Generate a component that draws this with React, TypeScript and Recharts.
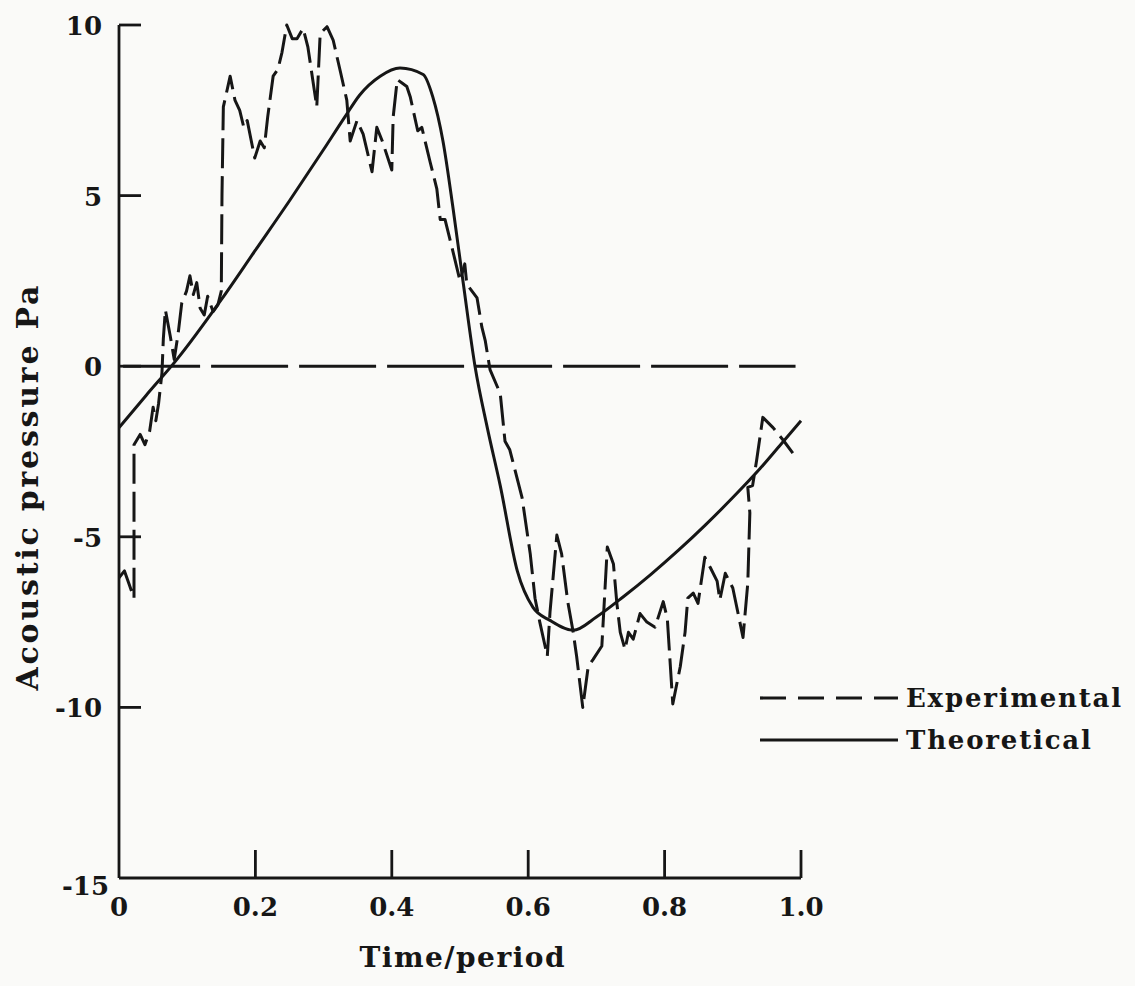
import React from "react";
import { LineChart, Line, XAxis, YAxis, ReferenceLine } from "recharts";

// experimental trace (dashed)
const expTime = [
  0, 0.008, 0.015, 0.022, 0.022, 0.022, 0.031, 0.038, 0.045, 0.05, 0.054, 0.058, 0.063, 0.065, 0.068,
  0.075, 0.081, 0.087, 0.092, 0.099, 0.104, 0.109, 0.114, 0.119, 0.125, 0.13, 0.138, 0.145, 0.15,
  0.151, 0.153, 0.163, 0.17, 0.177, 0.183, 0.188, 0.199, 0.207, 0.213, 0.218, 0.226, 0.233, 0.239,
  0.246, 0.254, 0.261, 0.27, 0.277, 0.29, 0.295, 0.305, 0.314, 0.325, 0.334, 0.339, 0.349, 0.358,
  0.371, 0.378, 0.386, 0.4, 0.402, 0.408, 0.415, 0.422, 0.427, 0.438, 0.444, 0.456, 0.466, 0.471,
  0.478, 0.488, 0.5, 0.507, 0.51, 0.525, 0.532, 0.537, 0.544, 0.559, 0.566, 0.573, 0.591, 0.603,
  0.61, 0.617, 0.628, 0.632, 0.642, 0.649, 0.658, 0.666, 0.671, 0.68, 0.688, 0.695, 0.708, 0.716,
  0.725, 0.73, 0.735, 0.742, 0.747, 0.754, 0.764, 0.774, 0.786, 0.798, 0.804, 0.812, 0.823, 0.83,
  0.834, 0.842, 0.849, 0.859, 0.867, 0.877, 0.881, 0.889, 0.9, 0.915, 0.922, 0.925, 0.922, 0.929,
  0.935, 0.944, 0.959, 0.974, 0.988,
];
const expPressure = [
  -6.2, -6.0, -6.4, -6.8, -4.5, -2.3, -2.0, -2.3, -1.9, -1.2, -1.6, -1.1, -0.2, 0.8, 1.65,
  0.9, 0.2, 1.0, 1.85, 2.2, 2.65, 2.1, 2.45, 1.7, 1.5, 2.05, 1.6, 1.8, 2.2,
  5.0, 7.6, 8.5, 7.8, 7.5, 7.0, 7.2, 6.1, 6.6, 6.4, 7.3, 8.5, 8.7, 9.2,
  10.0, 9.6, 9.6, 9.9, 9.35, 7.6, 9.75, 9.95, 9.56, 8.6, 7.8, 6.6, 7.2, 6.8,
  5.7, 7.0, 6.6, 5.75, 7.3, 8.4, 8.3, 8.2, 7.9, 6.9, 7.0, 6.0, 5.2, 4.3,
  4.3, 3.5, 2.5, 3.0, 2.4, 2.0, 1.15, 0.75, -0.1, -0.8, -2.2, -2.45, -3.85, -5.5,
  -6.8, -7.5, -8.5, -7.2, -4.95, -5.5, -6.9, -7.8, -8.5, -10.0, -8.8, -8.6, -8.2, -5.3,
  -5.8, -6.95, -7.8, -8.3, -7.8, -8.0, -7.25, -7.5, -7.65, -6.9, -7.4, -9.9, -8.8, -7.8,
  -6.8, -6.65, -6.95, -5.6, -5.9, -6.3, -6.85, -6.07, -6.5, -7.95, -6.35, -4.3, -3.55, -3.5,
  -2.75, -1.5, -1.8, -2.17, -2.55,
];

// theoretical curve (solid)
const theoTime = [
  0, 0.04, 0.085, 0.15, 0.2, 0.25, 0.3, 0.331, 0.353, 0.383, 0.412, 0.446, 0.46, 0.475, 0.49,
  0.505, 0.522, 0.54, 0.559, 0.584, 0.607, 0.632, 0.666, 0.7, 0.74, 0.78, 0.82, 0.86, 0.9, 0.94,
  0.97, 1.0,
];
const theoPressure = [
  -1.8, -0.85, 0.2, 1.95, 3.4, 4.85, 6.35, 7.3, 7.95, 8.5, 8.74, 8.55, 7.9, 6.6, 4.6,
  2.4, 0, -1.8, -3.5, -6.0, -7.07, -7.45, -7.74, -7.35, -6.75, -6.1, -5.4, -4.65, -3.85, -3.0,
  -2.3, -1.6,
];

const xTicks = [0, 0.2, 0.4, 0.6, 0.8, 1.0];
const yTicks = [-15, -10, -5, 0, 5, 10];

const expData = expTime.map((t, i) => ({ t, p: expPressure[i] }));
const theoData = theoTime.map((t, i) => ({ t, p: theoPressure[i] }));

const INK = "#161616";
const FONT = '"DejaVu Serif", serif';
const PAPER = "#fafaf8";

type TickProps = { x?: number; y?: number; payload?: { value?: number } };

// ticks point inward, like the original drawing
const YTick = ({ x = 0, y = 0, payload }: TickProps) => {
  const v = payload?.value ?? 0;
  return (
    <g>
      {v !== -15 && <line x1={x} x2={x + 22} y1={y} y2={y} stroke={INK} strokeWidth={2.8} />}
      <text
        x={x - (v === -15 ? 10 : 17)}
        y={y + (v === -15 ? 17 : 10)}
        textAnchor="end"
        fontSize={26}
        fontWeight="bold"
        fontFamily={FONT}
        fill={INK}
      >
        {v}
      </text>
    </g>
  );
};

const XTick = ({ x = 0, y = 0, payload }: TickProps) => {
  const v = payload?.value ?? 0;
  return (
    <g>
      {v !== 0 && <line x1={x} x2={x} y1={y} y2={y - 28} stroke={INK} strokeWidth={2.8} />}
      <text x={x} y={y + 38} textAnchor="middle" fontSize={26} fontWeight="bold" fontFamily={FONT} fill={INK}>
        {v === 0 ? "0" : v.toFixed(1)}
      </text>
    </g>
  );
};

const LegendRow: React.FC<{ dash?: string; label: string }> = ({ dash, label }) => (
  <div style={{ display: "flex", alignItems: "center", height: 42 }}>
    <svg width={140} height={6}>
      <line x1={0} x2={138} y1={3} y2={3} stroke={INK} strokeWidth={3.2} strokeDasharray={dash} />
    </svg>
    <span style={{ fontFamily: FONT, fontSize: 26, fontWeight: "bold", color: INK, marginLeft: 6, letterSpacing: 1.8 }}>
      {label}
    </span>
  </div>
);

export default function App() {
  return (
    <div style={{ position: "absolute", left: 0, top: 0, width: 1135, height: 986, background: PAPER }}>
      <LineChart width={1135} height={986} margin={{ top: 25, right: 334, left: 59, bottom: 48 }}>
        <XAxis
          dataKey="t"
          type="number"
          domain={[0, 1]}
          ticks={xTicks}
          height={60}
          tickSize={0}
          tickMargin={0}
          tickLine={false}
          axisLine={{ stroke: INK, strokeWidth: 2.8 }}
          tick={(p: TickProps) => <XTick {...p} />}
          label={() => (
            <text
              x={462}
              y={967}
              textAnchor="middle"
              fontSize={28}
              fontWeight="bold"
              fontFamily={FONT}
              fill={INK}
              textLength={205}
            >
              Time/period
            </text>
          )}
        />
        <YAxis
          type="number"
          domain={[-15, 10]}
          ticks={yTicks}
          width={60}
          tickSize={0}
          tickMargin={0}
          tickLine={false}
          axisLine={{ stroke: INK, strokeWidth: 2.8 }}
          tick={(p: TickProps) => <YTick {...p} />}
          label={() => (
            <text
              x={38}
              y={488}
              transform="rotate(-90, 38, 488)"
              textAnchor="middle"
              fontSize={30}
              fontWeight="bold"
              fontFamily={FONT}
              fill={INK}
              textLength={405}
            >
              Acoustic pressure Pa
            </text>
          )}
        />
        <ReferenceLine
          segment={[
            { x: 0.006, y: 0 },
            { x: 0.992, y: 0 },
          ]}
          stroke={INK}
          strokeWidth={3}
          strokeDasharray="77 11"
        />
        <Line
          data={theoData}
          dataKey="p"
          type="monotone"
          stroke={INK}
          strokeWidth={3}
          dot={false}
          isAnimationActive={false}
        />
        <Line
          data={expData}
          dataKey="p"
          type="linear"
          stroke={INK}
          strokeWidth={3}
          strokeDasharray="30 8"
          strokeLinejoin="round"
          dot={false}
          isAnimationActive={false}
        />
      </LineChart>

      <div style={{ position: "absolute", left: 760, top: 677 }}>
        <LegendRow dash="26 12" label="Experimental" />
        <LegendRow label="Theoretical" />
      </div>
    </div>
  );
}
